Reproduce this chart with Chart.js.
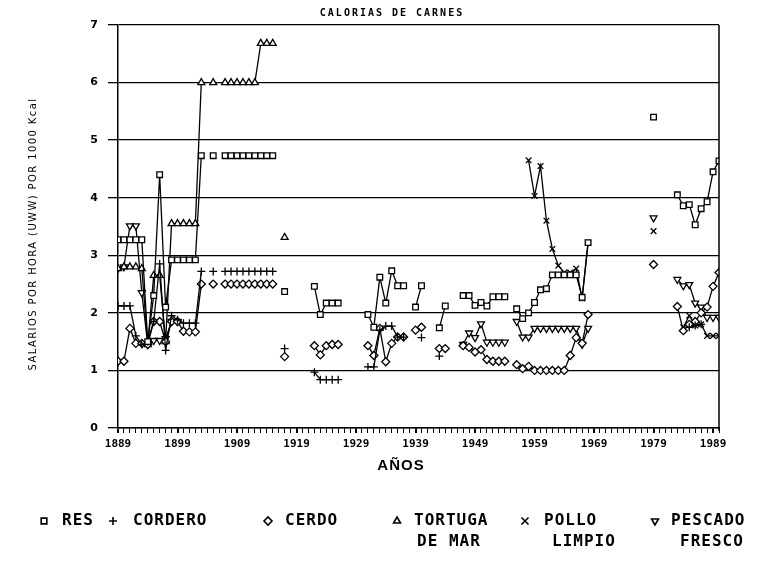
<!DOCTYPE html>
<html><head><meta charset="utf-8">
<script src="https://cdn.jsdelivr.net/npm/chart.js@4"></script>
<style>html,body{margin:0;padding:0;background:#fff}#wrap{width:767px;height:561px}</style>
</head><body><div id="wrap"><canvas id="c" width="767" height="561"></canvas></div>
<script>
// Year range and tick labels
const X_MIN = 1889, X_MAX = 1990;
const X_LABEL_YEARS = [1889,1899,1909,1919,1929,1939,1949,1959,1969,1979,1989];
const Y_TICKS = [0,1,2,3,4,5,6,7];

// [year, value] — salarios por hora por 1000 kcal
const RES = [[1889,3.27],[1890,3.27],[1891,3.27],[1892,3.27],[1893,3.27],[1894,1.5],[1895,2.3],[1896,4.4],[1897,2.1],
 [1898,2.92],[1899,2.92],[1900,2.92],[1901,2.92],[1902,2.92],[1903,4.73],[1905,4.73],
 [1907,4.73],[1908,4.73],[1909,4.73],[1910,4.73],[1911,4.73],[1912,4.73],[1913,4.73],[1914,4.73],[1915,4.73],
 [1917,2.37],[1922,2.46],[1923,1.97],[1924,2.17],[1925,2.17],[1926,2.17],
 [1931,1.97],[1932,1.75],[1933,2.62],[1934,2.17],[1935,2.73],[1936,2.47],[1937,2.47],[1939,2.1],[1940,2.47],
 [1943,1.74],[1944,2.12],[1947,2.3],[1948,2.3],[1949,2.13],[1950,2.18],[1951,2.12],[1952,2.28],[1953,2.28],[1954,2.28],
 [1956,2.07],[1957,1.9],[1958,2.0],[1959,2.18],[1960,2.4],[1961,2.42],[1962,2.66],[1963,2.66],[1964,2.66],[1965,2.66],[1966,2.66],[1967,2.27],[1968,3.22],
 [1979,5.4],[1983,4.05],[1984,3.86],[1985,3.88],[1986,3.53],[1987,3.81],[1988,3.93],[1989,4.45],[1990,4.64]];
const CORDERO = [[1889,2.12],[1890,2.12],[1891,2.12],[1892,1.6],[1893,1.45],[1894,1.5],[1895,1.85],[1896,2.85],[1897,1.35],
 [1898,1.95],[1899,1.88],[1900,1.82],[1901,1.82],[1902,1.82],[1903,2.72],[1905,2.72],
 [1907,2.72],[1908,2.72],[1909,2.72],[1910,2.72],[1911,2.72],[1912,2.72],[1913,2.72],[1914,2.72],[1915,2.72],
 [1917,1.38],[1922,0.97],[1923,0.84],[1924,0.84],[1925,0.84],[1926,0.84],
 [1931,1.06],[1932,1.06],[1933,1.7],[1934,1.77],[1935,1.77],[1936,1.58],[1937,1.58],[1940,1.57],[1943,1.25],
 [1985,1.75],[1986,1.78],[1987,1.8]];
const CERDO = [[1889,1.16],[1890,1.16],[1891,1.73],[1892,1.47],[1893,1.47],[1894,1.45],[1895,1.85],[1896,1.85],[1897,1.5],
 [1898,1.85],[1899,1.85],[1900,1.68],[1901,1.67],[1902,1.67],[1903,2.5],[1905,2.5],
 [1907,2.5],[1908,2.5],[1909,2.5],[1910,2.5],[1911,2.5],[1912,2.5],[1913,2.5],[1914,2.5],[1915,2.5],
 [1917,1.24],[1922,1.43],[1923,1.27],[1924,1.43],[1925,1.45],[1926,1.45],
 [1931,1.43],[1932,1.26],[1933,1.73],[1934,1.15],[1935,1.47],[1936,1.58],[1937,1.58],[1939,1.7],[1940,1.75],
 [1943,1.38],[1944,1.38],[1947,1.43],[1948,1.4],[1949,1.32],[1950,1.36],[1951,1.19],[1952,1.16],[1953,1.16],[1954,1.16],
 [1956,1.1],[1957,1.03],[1958,1.07],[1959,1.0],[1960,1.0],[1961,1.0],[1962,1.0],[1963,1.0],[1964,1.0],[1965,1.26],[1966,1.57],[1967,1.47],[1968,1.97],
 [1979,2.84],[1983,2.11],[1984,1.69],[1985,1.8],[1986,1.85],[1987,2.0],[1988,2.1],[1989,2.46],[1990,2.7]];
const TORTUGA = [[1889,2.77],[1890,2.8],[1891,2.8],[1892,2.8],[1893,2.77],[1894,1.45],[1895,2.65],[1896,2.65],[1897,1.5],
 [1898,3.55],[1899,3.55],[1900,3.55],[1901,3.55],[1902,3.55],[1903,6.0],[1905,6.0],
 [1907,6.0],[1908,6.0],[1909,6.0],[1910,6.0],[1911,6.0],[1912,6.0],[1913,6.68],[1914,6.68],[1915,6.68],[1917,3.31]];
const POLLO = [[1958,4.65],[1959,4.03],[1960,4.55],[1961,3.6],[1962,3.11],[1963,2.82],[1964,2.7],[1965,2.7],[1966,2.77],[1967,2.25],[1968,3.22],
 [1979,3.42],[1984,1.75],[1985,1.95],[1986,1.78],[1987,1.8],[1988,1.6],[1989,1.6],[1990,1.6]];
const PESCADO = [[1889,2.77],[1890,2.8],[1891,3.51],[1892,3.51],[1893,2.35],[1894,1.45],[1895,1.52],[1896,1.52],[1897,1.55],[1898,1.85],[1899,1.85],
 [1947,1.45],[1948,1.65],[1949,1.57],[1950,1.81],[1951,1.49],[1952,1.49],[1953,1.49],[1954,1.49],
 [1956,1.85],[1957,1.58],[1958,1.58],[1959,1.73],[1960,1.73],[1961,1.73],[1962,1.73],[1963,1.73],[1964,1.73],[1965,1.73],[1966,1.73],[1967,1.45],[1968,1.73],
 [1979,3.65],[1983,2.58],[1984,2.47],[1985,2.49],[1986,2.17],[1987,2.1],[1988,1.92],[1989,1.92],[1990,1.92]];

function toPts(arr){
  const out=[];
  for(let i=0;i<arr.length;i++){
    if(i>0 && arr[i][0]-arr[i-1][0]>1) out.push({x:(arr[i][0]+arr[i-1][0])/2, y:null});
    out.push({x:arr[i][0], y:arr[i][1]});
  }
  return out;
}
function ds(label, arr, style, rot){
  return {label, data:toPts(arr), borderColor:'#000', borderWidth:1.3, spanGaps:false, tension:0,
    pointStyle:style, pointRotation:rot||0, pointRadius:4, pointHoverRadius:4,
    pointBackgroundColor:'#fff', pointBorderColor:'#000', pointBorderWidth:1.3, fill:false};
}

const decor = {
  id:'decor',
  afterDraw(chart){
    const {ctx, chartArea:a} = chart;
    ctx.save();
    ctx.strokeStyle='#000'; ctx.lineWidth=1.5;
    ctx.beginPath(); ctx.moveTo(a.right,a.top); ctx.lineTo(a.right,a.bottom+3); ctx.stroke();
    ctx.fillStyle='#000';
    // title
    ctx.font='bold 10px "DejaVu Sans Mono"'; ctx.letterSpacing='2px';
    ctx.textAlign='center'; ctx.textBaseline='middle';
    ctx.fillText('CALORIAS DE CARNES', 392, 13);
    // x title
    ctx.letterSpacing='1px';
    ctx.font='bold 15px "Liberation Sans"';
    ctx.fillText('AÑOS', 401, 466);
    // y title
    ctx.save();
    ctx.translate(33, 234); ctx.rotate(-Math.PI/2);
    ctx.font='10px "DejaVu Sans"'; ctx.letterSpacing='1.4px';
    ctx.fillText('SALARIOS POR HORA (UWW) POR 1000 Kcal', 0, 0);
    ctx.restore();
    // legend
    ctx.font='bold 16px "DejaVu Sans Mono"'; ctx.letterSpacing='1px';
    ctx.textAlign='left';
    const y1=521, y2=542;
    const items=[
      {sym:'rect', rot:0, sx:44, tx:62, t:['RES']},
      {sym:'cross', rot:0, sx:113, tx:133, t:['CORDERO']},
      {sym:'rectRot', rot:0, sx:268, tx:285, t:['CERDO']},
      {sym:'triangle', rot:0, sx:397, tx:414, t:['TORTUGA','DE MAR'], t2x:417},
      {sym:'crossRot', rot:0, sx:525, tx:544, t:['POLLO','LIMPIO'], t2x:552},
      {sym:'triangle', rot:180, sx:655, tx:671, t:['PESCADO','FRESCO'], t2x:680}
    ];
    items.forEach(it=>{
      ctx.fillText(it.t[0], it.tx, y1);
      if(it.t[1]) ctx.fillText(it.t[1], it.t2x, y2);
      ctx.lineWidth=1.6; ctx.strokeStyle='#000'; ctx.fillStyle='#fff';
      Chart.helpers.drawPoint(ctx, {pointStyle:it.sym, rotation:it.rot, radius:it.sym==='crossRot'?5:4, borderWidth:1.6}, it.sx, y1);
      ctx.fillStyle='#000';
    });
    ctx.restore();
  }
};

new Chart(document.getElementById('c'), {
  type:'line',
  data:{datasets:[
    ds('RES', RES, 'rect'),
    ds('CORDERO', CORDERO, 'cross'),
    ds('CERDO', CERDO, 'rectRot'),
    ds('TORTUGA DE MAR', TORTUGA, 'triangle'),
    ds('POLLO LIMPIO', POLLO, 'crossRot'),
    ds('PESCADO FRESCO', PESCADO, 'triangle', 180)
  ]},
  options:{
    responsive:false, animation:false, devicePixelRatio:1,
    layout:{padding:{top:25, right:48, left:0, bottom:0}},
    plugins:{legend:{display:false}, title:{display:false}, tooltip:{enabled:false}},
    scales:{
      x:{type:'linear', min:X_MIN, max:X_MAX,
        afterFit(s){ s.height=133; },
        ticks:{stepSize:1, autoSkip:false, maxRotation:0, minRotation:0, maxTicksLimit:500, padding:5,
          color:'#000', font:{family:'DejaVu Sans Mono', size:11, weight:'bold'},
          callback:v=> X_LABEL_YEARS.includes(v) ? String(v) : ''},
        grid:{drawOnChartArea:false, drawTicks:true, tickLength:5, color:'#000',
          lineWidth:c=> (c.tick && X_LABEL_YEARS.includes(c.tick.value)) ? 2 : 1},
        border:{display:true, color:'#000', width:1.5}
      },
      y:{min:0, max:7,
        afterFit(s){ s.width=118; },
        afterBuildTicks(s){ s.ticks = Y_TICKS.map(v=>({value:v})); },
        ticks:{stepSize:1, padding:10, color:'#000', font:{family:'DejaVu Sans', size:11, weight:'bold'}},
        grid:{color:'#000', lineWidth:1.3, tickLength:10, drawTicks:true},
        border:{display:true, color:'#000', width:1.5}
      }
    }
  },
  plugins:[decor]
});
</script></body></html>
